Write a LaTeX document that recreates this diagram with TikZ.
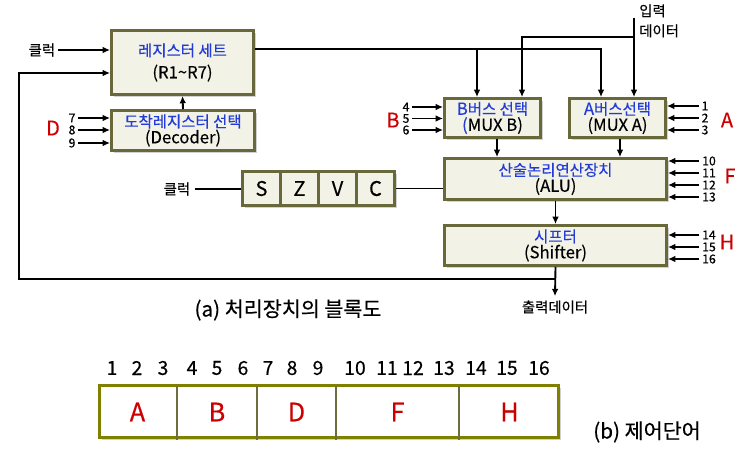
\documentclass[tikz,border=0pt]{standalone}
\usepackage{fontspec}
\setmainfont{Noto Sans CJK KR}[FakeBold=0.3]
\usetikzlibrary{arrows.meta,shadows,calc}
\definecolor{boxfill}{RGB}{243,242,230}
\definecolor{boxline}{RGB}{104,104,58}
\definecolor{cwline}{RGB}{128,128,0}
\definecolor{divcol}{RGB}{110,110,60}
\definecolor{txtblue}{RGB}{35,60,215}
\definecolor{txtred}{RGB}{204,0,0}
\newcommand\latn[1]{{\fontsize{12.5}{13}\selectfont #1}}
\begin{document}
\begin{tikzpicture}[x=0.75pt,y=-0.75pt,
  unit/.style={draw=boxline, line width=2.2pt, fill=boxfill, inner sep=0pt, align=center,
    font=\fontsize{11.6}{13.5}\selectfont,
    drop shadow={shadow xshift=1.8pt, shadow yshift=-1.8pt, opacity=0.35}},
  flag/.style={unit, minimum width=38*0.75pt, minimum height=34*0.75pt, font=\fontsize{15}{15}\selectfont},
  wire/.style={line width=1.4pt},
  arr/.style={wire, -{Latex[length=5.5pt,width=5pt]}},
  thinwire/.style={line width=1pt},
  small/.style={font=\fontsize{9.2}{9.2}\selectfont, inner sep=0pt},
  lbl/.style={font=\fontsize{10.8}{15}\selectfont, inner sep=0pt},
  field/.style={text=txtred, font=\fontsize{15}{15}\selectfont, inner sep=0pt},
  cwnum/.style={font=\fontsize{14.5}{14.5}\selectfont, inner sep=0pt},
  cwlet/.style={text=txtred, font=\fontsize{19}{19}\selectfont, inner sep=0pt},
  caption/.style={font=\fontsize{15.5}{16}\selectfont, inner sep=0pt},
  divline/.style={draw=divcol, line width=1.2pt}
]
\useasboundingbox[fill=white] (0,0) rectangle (754,464);

% ---- units
\node[unit, minimum width=142*0.75pt, minimum height=64*0.75pt] (rs) at (182.5,62.5)
  {\textcolor{txtblue}{레지스터 세트}\\[3pt]\latn{(R1\textasciitilde R7)}};
\node[unit, minimum width=143*0.75pt, minimum height=40*0.75pt] (dec) at (183,130.5)
  {\textcolor{txtblue}{도착레지스터 선택}\\[-1.5pt]\latn{(Decoder)}};
\node[unit, minimum width=96*0.75pt, minimum height=39*0.75pt] (mb) at (492.5,118)
  {\textcolor{txtblue}{\latn{B}버스 선택}\\[-1.5pt]\latn{\textcolor{txtblue}{(}MUX B)}};
\node[unit, minimum width=96*0.75pt, minimum height=39*0.75pt] (ma) at (617.5,118)
  {\textcolor{txtblue}{\latn{A}버스선택}\\[-1.5pt]\latn{(MUX A)}};
\node[unit, minimum width=222*0.75pt, minimum height=41*0.75pt] (alu) at (555.5,179)
  {\textcolor{txtblue}{산술논리연산장치}\\[-1.5pt]\latn{(ALU)}};
\node[unit, minimum width=222*0.75pt, minimum height=40*0.75pt] (sh) at (555.5,245.5)
  {\textcolor{txtblue}{시프터}\\[-1.5pt]\latn{(Shifter)}};

% ---- status flags
\node[flag] (fs) at (261.5,188.5) {S};
\node[flag] (fz) at (299.5,188.5) {Z};
\node[flag] (fv) at (337.5,188.5) {V};
\node[flag] (fc) at (375.5,188.5) {C};

% ---- clock to register set
\node[lbl] (clk1) at (42,50) {클럭};
\draw[arr] ([xshift=2pt]clk1.east) -- (clk1 -| rs.west);

% ---- feedback from shifter
\coordinate (fbj) at (555.5,279);
\coordinate (fbc) at (19,279);
\coordinate (fbt) at (19,73);
\draw[arr] (fbj) -- (fbc) -- (fbt) -- (fbt -| rs.west);
\node[lbl] (outd) at (555,307) {출력데이터};
\draw[arr] (sh.south) -- ([yshift=3pt]outd.north);

% ---- decoder
\draw[arr] (dec.north) -- (rs.south);
\node[small] (n7) at (72,118) {7};
\node[small] (n8) at (72,130) {8};
\node[small] (n9) at (72,143) {9};
\draw[arr] ([xshift=2pt]n7.east) -- (n7 -| dec.west);
\draw[arr] ([xshift=2pt]n8.east) -- (n8 -| dec.west);
\draw[arr] ([xshift=2pt]n9.east) -- (n9 -| dec.west);
\node[field] (fD) at (53,128) {D};

% ---- register set bus
\coordinate (bus) at (601,49);
\coordinate (busb) at (477,49);
\draw[arr] (bus -| rs.east) -- (bus) -- (bus |- ma.north);
\draw[arr] (busb) -- (busb |- mb.north);

% ---- input data
\node[lbl, align=left, anchor=north west] (ind) at (639,4) {입력\\데이터};
\coordinate (inb) at (634,18);
\coordinate (inj) at (634,37);
\coordinate (inc) at (522,37);
\draw[arr] (inb) -- (inb |- ma.north);
\draw[arr] (inj) -- (inc) -- (inc |- mb.north);

% ---- MUX B inputs
\node[small] (n4) at (406,107) {4};
\node[small] (n5) at (406,118.5) {5};
\node[small] (n6) at (406,130) {6};
\draw[arr] ([xshift=2pt]n4.east) -- (n4 -| mb.west);
\draw[arr] ([xshift=2pt]n5.east) -- (n5 -| mb.west);
\draw[arr] ([xshift=2pt]n6.east) -- (n6 -| mb.west);
\node[field] (fB) at (393,120) {B};

% ---- MUX A inputs
\node[small] (n1) at (705,106) {1};
\node[small] (n2) at (705,118) {2};
\node[small] (n3) at (705,130) {3};
\draw[arr] ([xshift=-2pt]n1.west) -- (n1 -| ma.east);
\draw[arr] ([xshift=-2pt]n2.west) -- (n2 -| ma.east);
\draw[arr] ([xshift=-2pt]n3.west) -- (n3 -| ma.east);
\node[field] (fA) at (727,120) {A};

% ---- MUX to ALU
\coordinate (mbo) at ($(mb.south)+(4.5,0)$);
\coordinate (mao) at ($(ma.south)+(2.5,0)$);
\draw[arr] (mbo) -- (mbo |- alu.north);
\draw[arr] (mao) -- (mao |- alu.north);

% ---- ALU inputs
\node[small] (n10) at (709,161) {10};
\node[small] (n11) at (709,173) {11};
\node[small] (n12) at (709,185) {12};
\node[small] (n13) at (709,197) {13};
\draw[arr] ([xshift=-2pt]n10.west) -- (n10 -| alu.east);
\draw[arr] ([xshift=-2pt]n11.west) -- (n11 -| alu.east);
\draw[arr] ([xshift=-2pt]n12.west) -- (n12 -| alu.east);
\draw[arr] ([xshift=-2pt]n13.west) -- (n13 -| alu.east);
\node[field] (fF) at (730,176) {F};

% ---- ALU to shifter
\draw[arr] (alu.south) -- (sh.north);

% ---- shifter inputs
\node[small] (n14) at (709,235) {14};
\node[small] (n15) at (709,247) {15};
\node[small] (n16) at (709,259) {16};
\draw[arr] ([xshift=-2pt]n14.west) -- (n14 -| sh.east);
\draw[arr] ([xshift=-2pt]n15.west) -- (n15 -| sh.east);
\draw[arr] ([xshift=-2pt]n16.west) -- (n16 -| sh.east);
\node[field] (fH) at (727,242) {H};

% ---- flags clock and ALU link
\node[lbl] (clk2) at (177,189) {클럭};
\draw[thinwire] ([xshift=3pt]clk2.east) -- (clk2 -| fs.west);
\draw[thinwire] (fc.east) -- (fc.east -| alu.west);

\node[caption] (capa) at (288,310) {(a) 처리장치의 블록도};

% ---- control word
\node[draw=cwline, line width=2.4pt, fill=white, inner sep=0pt,
  minimum width=459*0.75pt, minimum height=52*0.75pt,
  drop shadow={shadow xshift=1.8pt, shadow yshift=-1.8pt, opacity=0.35}] (cw) at (329,411.5) {};
\draw[divline] (177,386) -- (177,440);
\draw[divline] (257,386) -- (257,440);
\draw[divline] (336,386) -- (336,440);
\draw[divline] (459,386) -- (459,440);
\node[cwlet] (lA) at (137.5,412) {A};
\node[cwlet] (lB) at (217,412) {B};
\node[cwlet] (lD) at (296.5,412) {D};
\node[cwlet] (lF) at (397.5,412) {F};
\node[cwlet] (lH) at (509.5,412) {H};

\node[cwnum] (b1) at (112,368) {1};
\node[cwnum] (b2) at (137,368) {2};
\node[cwnum] (b3) at (163,368) {3};
\node[cwnum] (b4) at (192,368) {4};
\node[cwnum] (b5) at (217,368) {5};
\node[cwnum] (b6) at (243,368) {6};
\node[cwnum] (b7) at (268,368) {7};
\node[cwnum] (b8) at (292,368) {8};
\node[cwnum] (b9) at (318,368) {9};
\node[cwnum] (b10) at (355,368) {10};
\node[cwnum] (b11) at (387,368) {11};
\node[cwnum] (b12) at (413,368) {12};
\node[cwnum] (b13) at (444,368) {13};
\node[cwnum] (b14) at (476,368) {14};
\node[cwnum] (b15) at (507,368) {15};
\node[cwnum] (b16) at (539,368) {16};

\node[caption] (capb) at (647,432) {(b) 제어단어};
\end{tikzpicture}
\end{document}
